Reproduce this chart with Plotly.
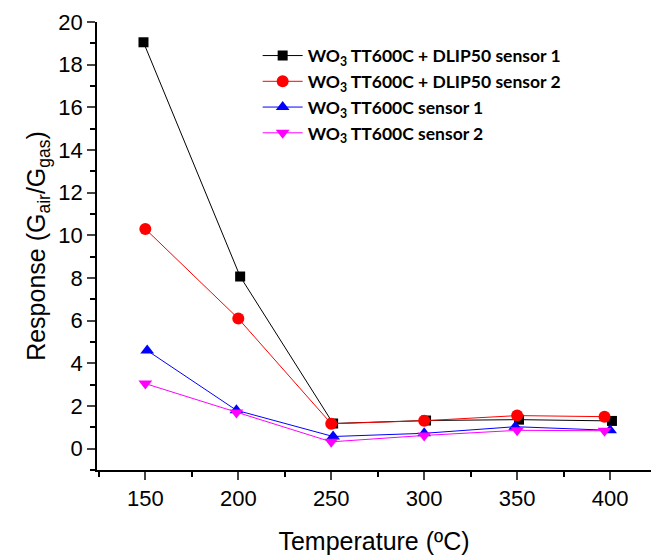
import plotly.graph_objects as go

temps = [150, 200, 250, 300, 350, 400]
x_black = [149, 201, 251, 301, 351, 401]
x_red = [150, 200, 250, 300, 350, 397]
x_blue = [151, 199, 251, 300, 349, 400]
x_mag = [150, 199, 250, 300, 350, 397]
black = [19.05, 8.07, 1.18, 1.32, 1.36, 1.30]
red = [10.3, 6.1, 1.17, 1.31, 1.55, 1.50]
blue = [4.6, 1.80, 0.57, 0.72, 1.03, 0.86]
magenta = [3.05, 1.70, 0.32, 0.62, 0.86, 0.84]
names = ["<b>WO<sub>3</sub> TT600C + DLIP50 sensor 1</b>",
         "<b>WO<sub>3</sub> TT600C + DLIP50 sensor 2</b>",
         "<b>WO<sub>3</sub> TT600C sensor 1</b>",
         "<b>WO<sub>3</sub> TT600C sensor 2</b>"]

fig = go.Figure()
series = [
    (x_black, black, "black", "square", 10),
    (x_red, red, "red", "circle", 12),
    (x_blue, blue, "blue", "triangle-up", 12),
    (x_mag, magenta, "magenta", "triangle-down", 12),
]
for (xs, ys, col, sym, sz), nm in zip(series, names):
    fig.add_trace(go.Scatter(x=xs, y=ys, mode="lines+markers", name=nm,
                             line=dict(color=col, width=1),
                             marker=dict(color=col, symbol=sym, size=sz)))

fig.update_layout(
    width=652, height=547,
    margin=dict(l=89, r=9, t=14, b=85, autoexpand=False),
    paper_bgcolor="white", plot_bgcolor="white",
    font=dict(family="Arial", color="black"),
    legend=dict(x=0.29, y=0.965, xanchor="left", yanchor="top",
                font=dict(family="Lato", size=17.5, color="black"),
                bgcolor="rgba(255,255,255,0)", tracegroupgap=0, itemwidth=40),
    xaxis=dict(range=[124, 422], tickvals=temps, ticks="outside", ticklen=8,
               tickwidth=1.5, showline=True, linecolor="black", linewidth=1.5,
               showgrid=False, zeroline=False, tickfont=dict(size=22), automargin=False,
               ticklabeloverflow="allow",
               minor=dict(tickvals=[125, 175, 225, 275, 325, 375], ticks="outside",
                          ticklen=5, tickwidth=1.5, tickcolor="black"),
               title=dict(text="Temperature (ºC)", font=dict(size=25), standoff=24)),
    yaxis=dict(range=[-1, 20], tickvals=list(range(0, 21, 2)), ticks="outside",
               ticklen=8, tickwidth=1.5, showline=True, linecolor="black",
               linewidth=1.5, showgrid=False, zeroline=False, tickfont=dict(size=22),
               automargin=False, ticklabeloverflow="allow",
               minor=dict(tickvals=list(range(-1, 20, 2)), ticks="outside",
                          ticklen=5, tickwidth=1.5, tickcolor="black"),
               title=dict(text="Response (G<sub>air</sub>/G<sub>gas</sub>)",
                          font=dict(size=25), standoff=6)),
)

fig.write_html("out.html")
